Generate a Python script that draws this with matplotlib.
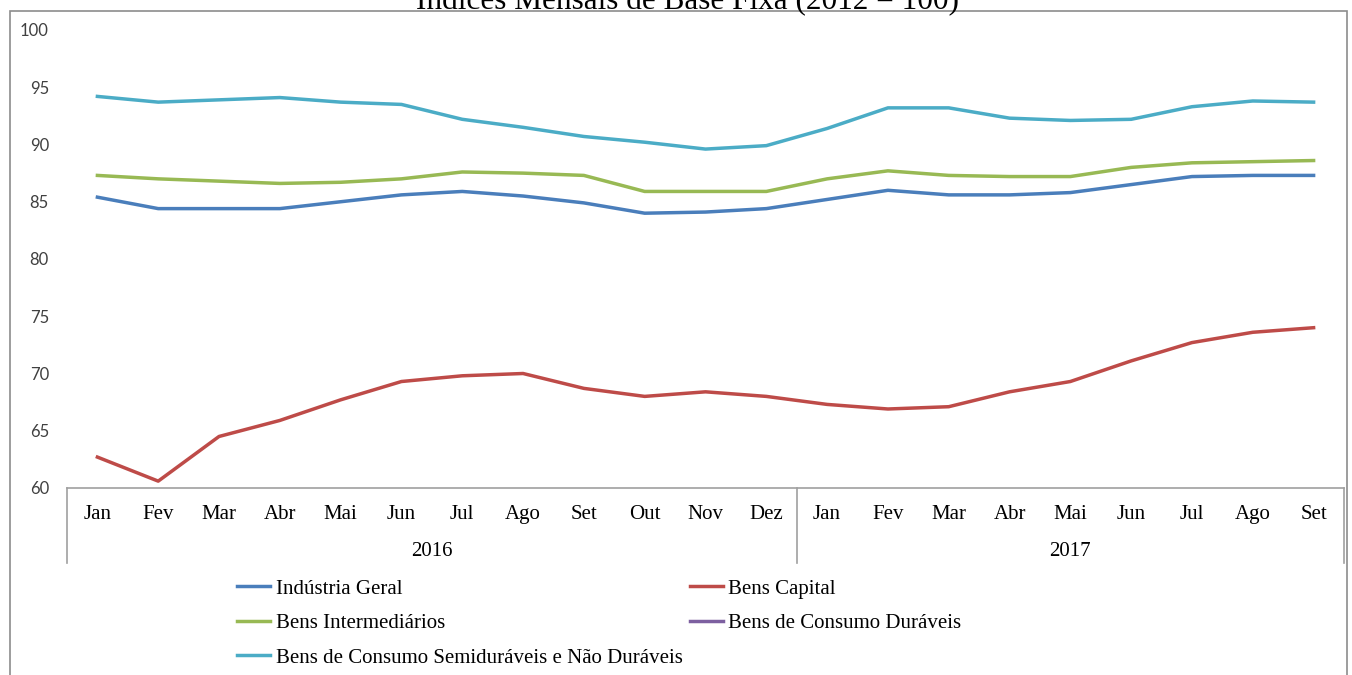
import numpy as np
import matplotlib
matplotlib.use("Agg")
import matplotlib.pyplot as plt
from matplotlib.patches import Rectangle
import matplotlib.transforms as mtransforms

# Dados (Índices mensais de base fixa, 2012 = 100)
meses = ["Jan", "Fev", "Mar", "Abr", "Mai", "Jun", "Jul", "Ago", "Set", "Out", "Nov", "Dez",
         "Jan", "Fev", "Mar", "Abr", "Mai", "Jun", "Jul", "Ago", "Set"]
anos = ["2016", "2017"]
meses_por_ano = [12, 9]

industria_geral = [85.4, 84.4, 84.4, 84.4, 85.0, 85.6, 85.9, 85.5, 84.9, 84.0, 84.1, 84.4,
                   85.2, 86.0, 85.6, 85.6, 85.8, 86.5, 87.2, 87.3, 87.3]
bens_capital = [62.7, 60.6, 64.5, 65.9, 67.7, 69.3, 69.8, 70.0, 68.7, 68.0, 68.4, 68.0,
                67.3, 66.9, 67.1, 68.4, 69.3, 71.1, 72.7, 73.6, 74.0]
bens_intermediarios = [87.3, 87.0, 86.8, 86.6, 86.7, 87.0, 87.6, 87.5, 87.3, 85.9, 85.9, 85.9,
                       87.0, 87.7, 87.3, 87.2, 87.2, 88.0, 88.4, 88.5, 88.6]
# fora da escala do gráfico (abaixo de 60), não aparece
bens_duraveis = [np.nan] * 21
bens_semiduraveis = [94.2, 93.7, 93.9, 94.1, 93.7, 93.5, 92.2, 91.5, 90.7, 90.2, 89.6, 89.9,
                     91.4, 93.2, 93.2, 92.3, 92.1, 92.2, 93.3, 93.8, 93.7]

W, H = 1352, 675
fig = plt.figure(figsize=(W / 100, H / 100), dpi=100)

# moldura cinza do gráfico
fig.patches.append(Rectangle((10 / W, -0.1), (1347 - 10) / W, 1.1 - 11 / H,
                             transform=fig.transFigure, fill=False,
                             edgecolor="#8c8c8c", linewidth=1.2))

# título (cortado no topo como na imagem original)
fig.text(687 / W, 1 - 9 / H, "Índices Mensais de Base Fixa (2012 = 100)",
         ha="center", va="baseline", fontsize=22.5, family="Liberation Serif")

ax = fig.add_axes([67 / W, (H - 488) / H, (1344 - 67) / W, 458 / H])

x = np.arange(len(meses))
ax.plot(x, industria_geral, color="#4A7EBB", lw=2.5, label="Indústria Geral")
ax.plot(x, bens_capital, color="#BE4B48", lw=2.5, label="Bens Capital")
ax.plot(x, bens_intermediarios, color="#98B954", lw=2.5, label="Bens Intermediários")
ax.plot(x, bens_duraveis, color="#7D60A0", lw=2.5, label="Bens de Consumo Duráveis")
ax.plot(x, bens_semiduraveis, color="#4BACC6", lw=2.5,
        label="Bens de Consumo Semiduráveis e Não Duráveis")

ax.set_xlim(-0.5, len(meses) - 0.5)
ax.set_ylim(60, 100)
ax.set_yticks(np.arange(60, 101, 5))
ax.tick_params(axis="y", length=0, pad=13, labelsize=12, labelcolor="#404040")
for lab in ax.get_yticklabels():
    lab.set_family("Lato")

ax.set_xticks(x)
ax.set_xticklabels(meses, family="Liberation Serif", fontsize=15)
ax.tick_params(axis="x", length=0, pad=12)

for s in ["top", "right", "left"]:
    ax.spines[s].set_visible(False)
ax.spines["bottom"].set_color("#a0a0a0")
ax.spines["bottom"].set_linewidth(1.2)

# divisões do eixo de categorias (anos)
trans = mtransforms.blended_transform_factory(ax.transData, ax.transAxes)
y_fundo = -(563 - 488) / 458
bordas = np.concatenate([[0], np.cumsum(meses_por_ano)]) - 0.5
for b in bordas:
    ax.plot([b, b], [0, y_fundo], color="#a0a0a0", lw=1.2, transform=trans, clip_on=False)
for i, ano in enumerate(anos):
    centro = (bordas[i] + bordas[i + 1]) / 2
    ax.text(centro, -(552 - 488) / 458, ano, transform=trans, ha="center", va="center",
            fontsize=15, family="Liberation Serif")

# legenda em duas colunas
h, l = ax.get_legend_handles_labels()
ordem = [0, 2, 4, 1, 3]
fig.legend([h[i] for i in ordem], [l[i] for i in ordem], ncol=2,
           loc="upper left", bbox_to_anchor=(237 / W, 1 - 579 / H),
           frameon=False, prop={"family": "Liberation Serif", "size": 15},
           handlelength=1.6, handletextpad=0.25, columnspacing=0.35,
           labelspacing=0.72, borderaxespad=0, borderpad=0)

fig.savefig("out.png", dpi=100)
